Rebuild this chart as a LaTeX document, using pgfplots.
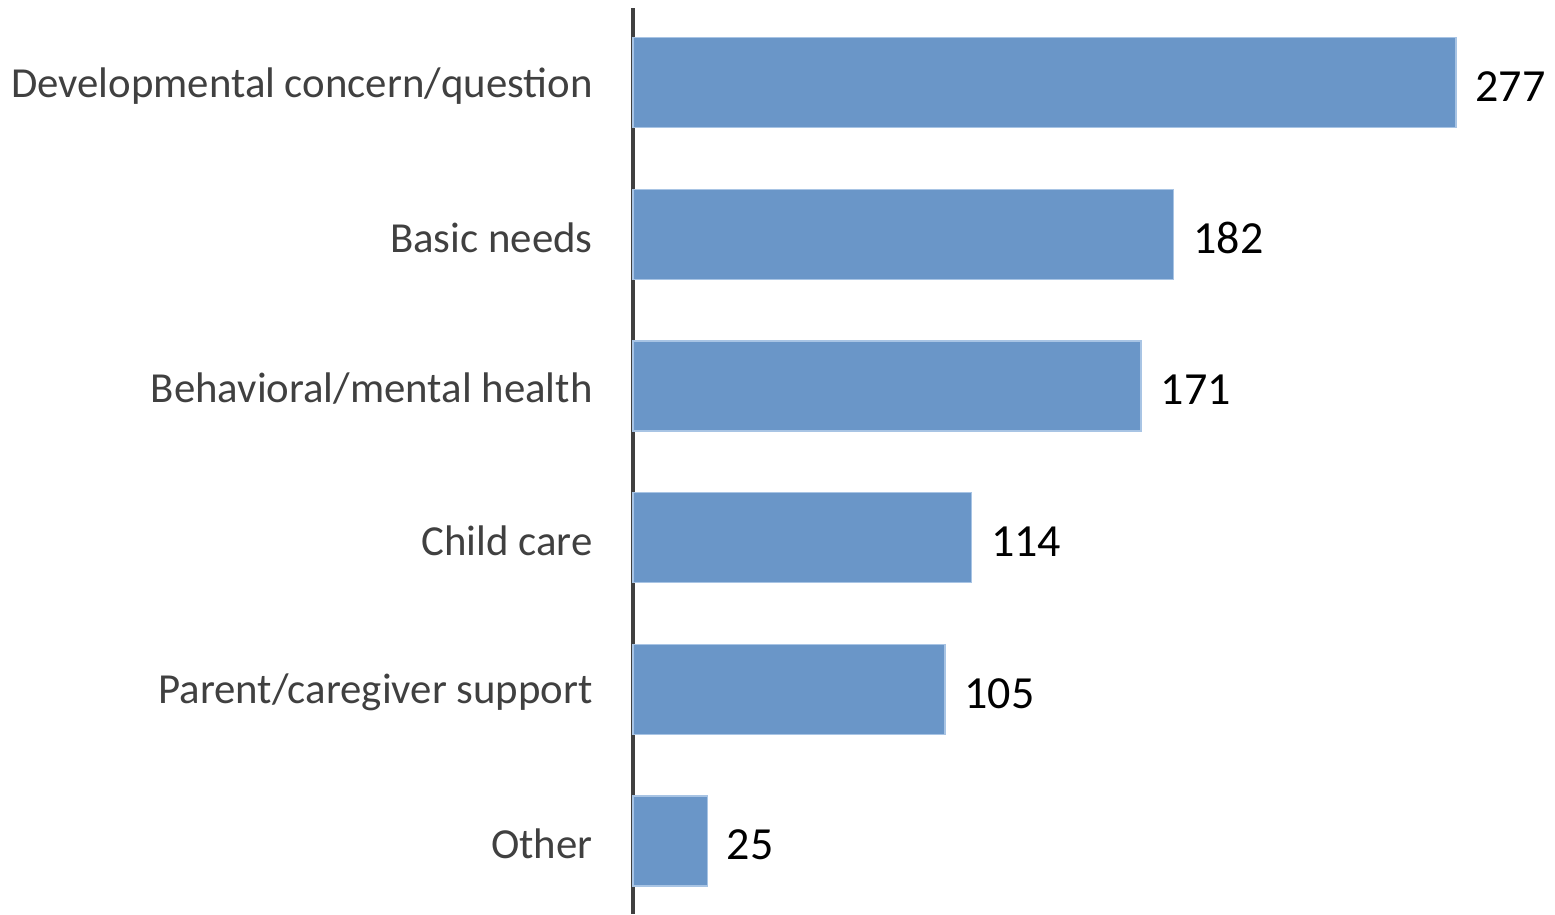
\documentclass[border=0pt]{standalone}
\usepackage{pgfplots}
\pgfplotsset{compat=1.18}
\usepackage{fontspec}
\setmainfont{Carlito}
\definecolor{barblue}{RGB}{106,150,200}
\definecolor{baredge}{RGB}{168,196,228}
\definecolor{axisgray}{RGB}{64,64,64}
\begin{document}
\begin{tikzpicture}
\begin{axis}[
  scale only axis,
  width=461pt, height=453pt,
  xbar, bar width=45pt,
  xmin=0, xmax=310.3,
  ymin=-0.493, ymax=5.482,
  y dir=reverse,
  axis x line=none,
  axis y line*=left,
  y axis line style={draw=axisgray, line width=2pt, -},
  ytick={0,1,2,3,4,5},
  yticklabels={Developmental concern/question, Basic needs, Behavioral/mental health, Child care, Parent/caregiver support, Other},
  major tick length=0pt,
  yticklabel style={font=\fontsize{21.4pt}{25pt}\selectfont, text=axisgray, anchor=east, inner sep=0pt, xshift=-20pt, yshift=-1.5pt},
  /pgf/number format/assume math mode=true,
  nodes near coords,
  clip=false,
  every node near coord/.append style={font=\fontsize{23pt}{27pt}\selectfont, text=black, anchor=west, inner sep=0pt, xshift=9.5pt, yshift=-2pt},
]
\addplot[fill=barblue, draw=baredge, line width=0.6pt] coordinates {
  (277,0) (182,1) (171,2) (114,3) (105,4) (25,5)
};
\end{axis}
\pgfresetboundingbox
\path ([xshift=-316.5pt,yshift=4pt]current axis.north west) rectangle (current axis.south east);
\end{tikzpicture}
\end{document}
